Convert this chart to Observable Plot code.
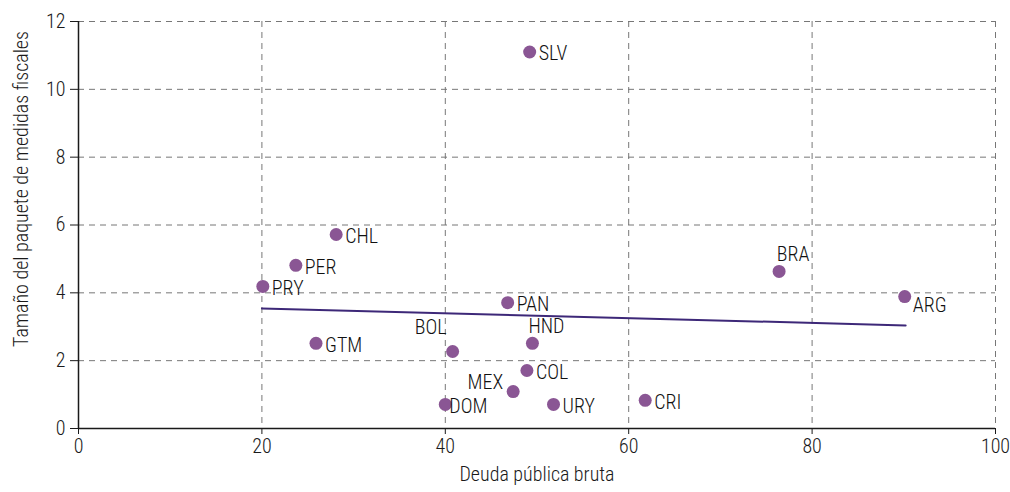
<!DOCTYPE html>
<html>
<head>
<meta charset="utf-8">
<script src="https://cdn.jsdelivr.net/npm/d3@7"></script>
<script src="https://cdn.jsdelivr.net/npm/@observablehq/plot@0.6"></script>
<style>
  html, body { margin: 0; padding: 0; background: #fff; }
  #chart svg { display: block; }
</style>
</head>
<body>
<div id="chart"></div>
<script>
const countries = ["SLV","CHL","PER","PRY","GTM","BOL","PAN","HND","COL","MEX","DOM","URY","CRI","BRA","ARG"];
const deuda =     [49.2, 28.1, 23.7, 20.1, 25.9, 40.8, 46.8, 49.5, 48.9, 47.4, 40.0, 51.8, 61.8, 76.4, 90.1];
const paquete =   [11.1, 5.72, 4.81, 4.19, 2.51, 2.27, 3.71, 2.51, 1.71, 1.09, 0.71, 0.71, 0.83, 4.63, 3.89];
const trendX = [20.0, 90.2];
const trendY = [3.54, 3.04];
const xTicks = [0, 20, 40, 60, 80, 100];
const yTicks = [0, 2, 4, 6, 8, 10, 12];

const pts = countries.map((c, i) => ({c, x: deuda[i], y: paquete[i]}));
const trend = trendX.map((x, i) => ({x, y: trendY[i]}));

const above = new Set(["HND", "BRA"]);
const left = new Set(["MEX"]);
const aboveLeft = new Set(["BOL"]);
const belowRight = new Set(["ARG"]);
const close = new Set(["DOM"]);
const rightSet = new Set(countries.filter(c => !above.has(c) && !left.has(c) && !aboveLeft.has(c) && !belowRight.has(c) && !close.has(c)));

const font = "Roboto, sans-serif";
const purple = "#8a5694";
const ink = "#1a1a1a";
const lab = {fontSize: 20, fontWeight: 300, fill: "#111"};

const chart = Plot.plot({
  width: 1010,
  height: 492,
  marginLeft: 78,
  marginRight: 15,
  marginTop: 21,
  marginBottom: 64,
  style: {fontFamily: font, fontStretch: "75%", fontWeight: 300, fontSize: "20px", color: ink, background: "#fff"},
  x: {domain: [0, 100], ticks: xTicks, label: null},
  y: {domain: [0, 12], ticks: yTicks, label: null},
  marks: [
    Plot.gridX(xTicks.filter(d => d > 0), {stroke: "#777", strokeOpacity: 1, strokeDasharray: "6,5", strokeWidth: 1}),
    Plot.gridY(yTicks.filter(d => d > 0), {stroke: "#777", strokeOpacity: 1, strokeDasharray: "6,5", strokeWidth: 1}),
    Plot.axisX({ticks: xTicks, tickSize: 6, tickPadding: 4, fontSize: 20, label: null, stroke: ink}),
    Plot.axisY({ticks: yTicks, tickSize: 8, tickPadding: 5, fontSize: 20, label: null, stroke: ink}),
    Plot.ruleY([0], {stroke: ink, strokeWidth: 1.5}),
    Plot.ruleX([0], {stroke: ink, strokeWidth: 1.5}),
    Plot.line(trend, {x: "x", y: "y", stroke: "#3d2878", strokeWidth: 2}),
    Plot.dot(pts, {x: "x", y: "y", r: 6.5, fill: purple, stroke: "none"}),
    Plot.text(pts.filter(d => rightSet.has(d.c)), {x: "x", y: "y", text: "c", dx: 9, dy: 2, textAnchor: "start", ...lab}),
    Plot.text(pts.filter(d => close.has(d.c)), {x: "x", y: "y", text: "c", dx: 4, dy: 2, textAnchor: "start", ...lab}),
    Plot.text(pts.filter(d => above.has(d.c)), {x: "x", y: "y", text: "c", dx: 14, dy: -17, textAnchor: "middle", ...lab}),
    Plot.text(pts.filter(d => left.has(d.c)), {x: "x", y: "y", text: "c", dx: -10, dy: -9, textAnchor: "end", ...lab}),
    Plot.text(pts.filter(d => aboveLeft.has(d.c)), {x: "x", y: "y", text: "c", dx: -6, dy: -24, textAnchor: "end", ...lab}),
    Plot.text(pts.filter(d => belowRight.has(d.c)), {x: "x", y: "y", text: "c", dx: 8, dy: 9, textAnchor: "start", ...lab}),
    Plot.text(["Deuda pública bruta"], {frameAnchor: "bottom", dy: 52, fontSize: 20, fill: ink}),
    Plot.text(["Tamaño del paquete de medidas fiscales"], {frameAnchor: "left", textAnchor: "middle", dx: -57, dy: -36, rotate: -90, fontSize: 20, fill: ink})
  ]
});
document.getElementById("chart").appendChild(chart);
</script>
</body>
</html>
